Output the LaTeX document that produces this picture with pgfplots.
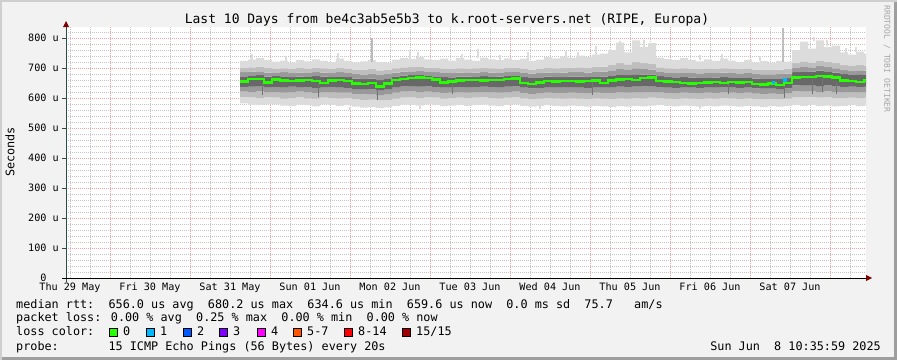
\documentclass[border=0pt]{standalone}
\usepackage{fontspec}
\setmainfont{DejaVu Sans Mono}
\usepackage{pgfplots}
\pgfplotsset{compat=1.18}
\usepackage{pgfplotstable}

\definecolor{bgc}{HTML}{F2F2F2}
\definecolor{shadea}{HTML}{CFCFCF}
\definecolor{shadeb}{HTML}{9E9E9E}
\definecolor{gridc}{HTML}{C4C4C4}
\definecolor{mgridc}{HTML}{EFA3A3}
\definecolor{axisc}{HTML}{2C4D43}
\definecolor{arrowc}{HTML}{7F0000}
\definecolor{cA}{HTML}{DCDCDC}
\definecolor{cB}{HTML}{BEBEBE}
\definecolor{cC}{HTML}{999999}
\definecolor{cD}{HTML}{686868}
\definecolor{lcA}{HTML}{26FF00}
\definecolor{lcB}{HTML}{00B8FF}
\definecolor{lcC}{HTML}{0059FF}
\definecolor{lcD}{HTML}{7E00FF}
\definecolor{lcE}{HTML}{FF00FF}
\definecolor{lcF}{HTML}{FF5500}
\definecolor{lcG}{HTML}{FF0000}
\definecolor{lcH}{HTML}{A10000}

\newcommand\axf{\fontsize{10.15}{12}\selectfont}
\newcommand\lgf{\fontsize{11.8}{13}\selectfont}
\newcommand\ttf{\fontsize{13}{15}\selectfont}
\newcommand\wmf{\fontsize{8.1}{9}\selectfont}

% t = days since 30 May 00:00; band bounds (us)
\pgfplotstableread{
t l1 h1 l2 h2 l3 h3 l4 h4 m
1.625 582 724 604 700 621 686 637 672 655
1.725 578 728 602 702 620 688 638 674 663
1.825 576 733 600 704 622 689 640 676 664
1.925 580 726 603 700 619 685 636 671 652
2.025 579 721 601 698 620 684 637 673 662
2.125 575 725 598 699 618 686 635 672 658
2.225 573 718 600 697 620 683 638 670 656
2.325 578 727 602 700 621 685 636 671 659
2.425 576 722 599 698 619 684 637 672 660
2.525 572 729 598 701 617 686 634 673 657
2.625 579 724 601 699 620 685 636 671 650
2.725 577 720 600 697 619 683 637 670 659
2.825 574 731 599 700 618 686 635 672 661
2.925 576 724 600 698 618 684 634 670 656
3.025 571 719 596 695 614 680 630 665 648
3.125 568 722 594 694 612 678 628 663 646
3.225 570 726 595 696 613 680 629 665 650
3.325 566 720 592 692 610 677 626 660 638
3.425 569 718 594 694 613 680 630 664 648
3.525 574 728 598 699 618 685 636 672 660
3.625 578 733 601 702 621 688 639 675 664
3.725 577 730 602 703 622 689 640 676 667
3.825 575 736 600 704 620 690 638 677 668
3.925 579 729 603 701 621 687 639 674 666
4.025 576 727 601 700 619 686 637 672 662
4.125 573 731 598 698 617 684 635 670 652
4.225 575 725 600 697 618 683 636 669 655
4.325 577 733 601 699 620 685 637 671 658
4.425 574 728 600 698 618 684 636 671 660
4.525 576 724 601 699 619 685 637 672 661
4.625 578 735 602 700 620 686 638 673 659
4.725 575 729 600 699 619 685 637 672 660
4.825 573 726 599 698 618 684 636 671 661
4.925 577 732 601 700 620 686 638 673 664
5.025 579 727 602 701 621 687 639 674 665
5.125 574 731 599 698 617 684 635 670 651
5.225 571 724 596 695 614 681 632 667 647
5.325 573 728 598 697 616 683 634 669 652
5.425 576 736 600 700 618 685 636 671 657
5.525 574 732 599 699 617 684 635 670 655
5.625 572 738 598 700 617 685 635 670 656
5.725 575 734 599 701 618 686 636 671 657
5.825 573 741 598 702 617 686 635 671 655
5.925 571 737 597 700 616 685 634 670 656
6.025 574 745 599 703 618 687 636 672 658
6.125 572 748 598 705 617 688 635 671 650
6.225 570 760 597 710 617 692 636 674 658
6.325 573 785 599 716 619 696 638 677 662
6.425 571 752 598 712 618 694 637 676 664
6.525 574 792 600 720 620 699 640 679 661
6.625 572 770 599 716 619 697 639 678 666
6.725 575 783 601 714 620 695 640 678 668
6.825 576 735 600 702 619 687 637 673 656
6.925 574 730 598 699 617 684 635 670 655
7.025 572 727 597 698 616 683 634 669 653
7.125 575 733 599 699 618 684 636 670 650
7.225 573 726 598 697 617 683 635 668 649
7.325 571 722 597 696 616 682 634 667 651
7.425 574 729 599 698 618 684 636 669 652
7.525 572 724 598 697 617 683 635 668 653
7.625 575 731 600 699 619 685 637 670 651
7.725 573 725 599 698 618 684 636 669 654
7.825 571 720 597 696 616 682 634 667 652
7.925 574 727 599 698 618 684 636 669 653
8.025 572 719 597 695 615 680 632 665 647
8.125 570 723 596 694 614 679 631 664 645
8.225 573 717 597 694 615 679 631 664 648
8.325 571 724 596 695 614 680 630 664 644
8.425 574 721 598 696 616 681 632 666 650
8.525 576 760 603 716 622 700 642 686 668
8.625 574 788 602 722 621 704 641 689 671
8.725 577 765 604 718 623 702 643 688 670
8.825 573 792 601 724 620 706 640 691 674
8.925 575 770 603 720 622 703 642 689 672
9.025 572 775 600 716 619 699 639 685 669
9.125 574 752 600 710 619 693 637 680 658
9.225 576 745 601 707 620 690 638 677 656
9.325 573 755 600 710 619 692 637 679 654
9.425 575 748 601 708 620 691 638 678 659
9.45  575 748 601 708 620 691 638 678 660
}\smoke

% light spikes above the smoke: t, base, length
\pgfplotstableread{
t y e
1.775 728 20
2.2 722 18
2.85 728 22
3.75 730 27
3.85 735 17
4.4 728 20
4.6 733 30
4.875 728 17
5.225 724 28
5.7 734 24
5.85 740 15
6.075 745 27
6.375 760 30
6.675 770 25
7.375 727 18
7.65 725 23
8.125 723 17
8.8 790 13
8.9625 772 23
9.2 745 22
9.325 755 15
}\spikesup

\pgfplotstableread{
t y e
3.0 571 11
3.875 575 10
5.375 573 11
7.375 574 9
}\spikesdown

\pgfplotstableread{
t y e
1.9 650 40
2.6 648 43
3.3375 640 45
4.275 650 38
6.025 655 45
7.725 650 38
8.425 650 50
8.775 665 50
8.9 668 48
9.075 655 43
}\darkstreaks

\begin{document}
\begin{tikzpicture}
\fill[bgc] (0pt,0pt) rectangle (897pt,360pt);
\fill[shadea] (0pt,0pt) rectangle (2pt,360pt);
\fill[shadea] (0pt,358pt) rectangle (897pt,360pt);
\fill[shadeb] (894pt,0pt) rectangle (897pt,358pt);
\fill[shadeb] (2pt,0pt) rectangle (897pt,3pt);

\begin{axis}[
  at={(66pt,82pt)}, anchor=south west,
  width=800pt, height=251pt, scale only axis,
  xmin=-0.55, xmax=9.45, ymin=0, ymax=836.7,
  axis line style={draw=none},
  axis background/.style={fill=white},
  xtick={-0.5,0.5,1.5,2.5,3.5,4.5,5.5,6.5,7.5,8.5},
  xticklabels={Thu 29 May,Fri 30 May,Sat 31 May,Sun 01 Jun,Mon 02 Jun,Tue 03 Jun,Wed 04 Jun,Thu 05 Jun,Fri 06 Jun,Sat 07 Jun},
  minor xtick={-0.5,-0.25,0.25,0.5,0.75,1.25,1.5,1.75,2.25,2.5,2.75,3.25,3.5,3.75,4.25,4.5,4.75,5.25,5.5,5.75,6.25,6.5,6.75,7.25,7.5,7.75,8.25,8.5,8.75,9.25},
  xmajorgrids=false, xminorgrids=true,
  extra x ticks={0,1,2,3,4,5,6,7,8,9},
  extra x tick labels={},
  extra x tick style={grid=major},
  ytick={0,100,200,300,400,500,600,700,800},
  yticklabels={0\phantom{xx},100 u,200 u,300 u,400 u,500 u,600 u,700 u,800 u},
  minor ytick={20,40,60,80,120,140,160,180,220,240,260,280,320,340,360,380,420,440,460,480,520,540,560,580,620,640,660,680,720,740,760,780,820},
  ymajorgrids=true, yminorgrids=true,
  major grid style={mgridc, line width=1pt, dash pattern=on 1pt off 1pt},
  minor grid style={gridc, line width=1pt, dash pattern=on 1pt off 1pt},
  major tick length=0pt, minor tick length=0pt,
  tick style={draw=none},
  ticklabel style={font=\axf, text=black},
  xticklabel style={anchor=north, inner sep=0pt, yshift=-5pt},
  yticklabel style={anchor=east, inner sep=0pt, xshift=-7pt},
]
% smoke: stacked bands between successive quantile bounds
\addplot[stack plots=y, draw=none, const plot] table[x=t,y=l1]{\smoke};
\addplot[stack plots=y, fill=cA, draw=none, const plot] table[x=t,y expr=\thisrow{l2}-\thisrow{l1}]{\smoke} \closedcycle;
\addplot[stack plots=y, fill=cB, draw=none, const plot] table[x=t,y expr=\thisrow{l3}-\thisrow{l2}]{\smoke} \closedcycle;
\addplot[stack plots=y, fill=cC, draw=none, const plot] table[x=t,y expr=\thisrow{l4}-\thisrow{l3}]{\smoke} \closedcycle;
\addplot[stack plots=y, fill=cD, draw=none, const plot] table[x=t,y expr=\thisrow{h4}-\thisrow{l4}]{\smoke} \closedcycle;
\addplot[stack plots=y, fill=cC, draw=none, const plot] table[x=t,y expr=\thisrow{h3}-\thisrow{h4}]{\smoke} \closedcycle;
\addplot[stack plots=y, fill=cB, draw=none, const plot] table[x=t,y expr=\thisrow{h2}-\thisrow{h3}]{\smoke} \closedcycle;
\addplot[stack plots=y, fill=cA, draw=none, const plot] table[x=t,y expr=\thisrow{h1}-\thisrow{h2}]{\smoke} \closedcycle;

\addplot[draw=none, mark=none, error bars/.cd, y dir=plus, y explicit,
  error mark=none, error bar style={draw=cA, line width=1.6pt, solid}]
  table[x=t, y=y, y error=e]{\spikesup};
\addplot[draw=none, mark=none, error bars/.cd, y dir=minus, y explicit,
  error mark=none, error bar style={draw=cA, line width=1.6pt, solid}]
  table[x=t, y=y, y error=e]{\spikesdown};
\addplot[draw=none, mark=none, error bars/.cd, y dir=plus, y explicit,
  error mark=none, error bar style={draw=cA!85!black, line width=1.6pt, solid}]
  coordinates {(3.275,720) +- (0,80)};
\addplot[draw=none, mark=none, error bars/.cd, y dir=plus, y explicit,
  error mark=none, error bar style={draw=cB, line width=2.4pt, solid}]
  coordinates {(8.4125,721) +- (0,112)};
\addplot[draw=none, mark=none, error bars/.cd, y dir=minus, y explicit,
  error mark=none, error bar style={draw=black!55, line width=1pt, solid}]
  table[x=t, y=y, y error=e]{\darkstreaks};

\addplot[lcA, line width=2.4pt, const plot] table[x=t,y=m]{\smoke};
\addplot[only marks, mark=square*, mark size=1.3pt, lcB] coordinates {(8.29,653) (8.43,661)};
\end{axis}

% axes
\draw[axisc, line width=1pt] (66pt,78pt) -- (66pt,333pt);
\fill[arrowc] (63pt,333pt) -- (69pt,333pt) -- (66pt,339pt) -- cycle;
\foreach \v in {0,...,8} \draw[axisc, line width=0.8pt] (62pt,{(82+30*\v)*1pt}) -- (66pt,{(82+30*\v)*1pt});
\draw[black, line width=1pt] (62pt,82pt) -- (866pt,82pt);
\fill[arrowc] (866pt,79pt) -- (866pt,85pt) -- (872pt,82pt) -- cycle;

% title and labels
\node[font=\ttf, anchor=base] at (447pt,336.5pt) {Last 10 Days from be4c3ab5e5b3 to k.root-servers.net (RIPE, Europa)};
\node[font=\lgf, rotate=90, anchor=center] at (10pt,208pt) {Seconds};
\node[font=\wmf, rotate=-90, anchor=center, text=black!35] at (887pt,301pt) {RRDTOOL / TOBI OETIKER};

% legend
\begin{scope}[every node/.style={font=\lgf, anchor=base west, inner sep=0pt}]
\node at (16pt,52pt) {median rtt:\ \ 656.0 us avg\ \ 680.2 us max\ \ 634.6 us min\ \ 659.6 us now\ \ 0.0 ms sd\ \ 75.7\ \ \ am/s};
\node at (16pt,38.3pt) {packet loss: 0.00 \% avg\ \ 0.25 \% max\ \ 0.00 \% min\ \ 0.00 \% now};
\node at (16pt,24.3pt) {loss color:};
\node at (123pt,24.3pt) {0};
\node at (160pt,24.3pt) {1};
\node at (197pt,24.3pt) {2};
\node at (233pt,24.3pt) {3};
\node at (271pt,24.3pt) {4};
\node at (307pt,24.3pt) {5-7};
\node at (358pt,24.3pt) {8-14};
\node at (416pt,24.3pt) {15/15};
\node at (16pt,10pt) {probe:\ \ \ \ \ \ \ 15 ICMP Echo Pings (56 Bytes) every 20s};
\node[anchor=base east] at (881pt,10pt) {Sun Jun\ \ 8 10:35:59 2025};
\end{scope}
\foreach \xx/\cc in {109/lcA,146/lcB,183/lcC,219/lcD,257/lcE,293/lcF,344/lcG,402/lcH}
  \draw[black, line width=0.8pt, fill=\cc] ({\xx*1pt},24pt) rectangle ({(\xx+8)*1pt},32pt);

\pgfresetboundingbox
\path[use as bounding box] (0pt,0pt) rectangle (897pt,360pt);
\end{tikzpicture}
\end{document}
